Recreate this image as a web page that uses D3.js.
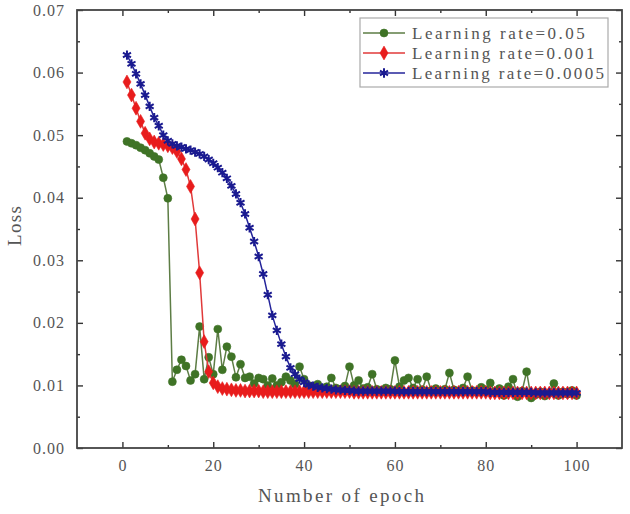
<!DOCTYPE html>
<html>
<head>
<meta charset="utf-8">
<script src="https://cdn.jsdelivr.net/npm/d3@7"></script>
<style>
  body { margin: 0; background: #fff; }
  svg { display: block; }
  text { font-family: "Liberation Serif", "DejaVu Serif", serif; fill: #555; }
</style>
</head>
<body>
<svg id="chart" width="630" height="514"></svg>
<script>
const epochs = d3.range(1, 101);
const seriesLabels = ["Learning rate=0.05", "Learning rate=0.001", "Learning rate=0.0005"];
const lossLr005 = [
  0.0490, 0.0487, 0.0484, 0.0480, 0.0476, 0.0471, 0.0466, 0.0461, 0.0432, 0.0399,
  0.0106, 0.0125, 0.0141, 0.0131, 0.0108, 0.0118, 0.0194, 0.0110, 0.0145, 0.0118,
  0.0190, 0.0125, 0.0162, 0.0146, 0.0113, 0.0134, 0.0112, 0.0114, 0.0103, 0.0112,
  0.0110, 0.0100, 0.0111, 0.0100, 0.0105, 0.0114, 0.0108, 0.0102, 0.0130, 0.0110,
  0.0100, 0.0096, 0.0102, 0.0095, 0.0098, 0.0112, 0.0096, 0.0094, 0.0099, 0.0130,
  0.0100, 0.0108, 0.0095, 0.0097, 0.0118, 0.0094, 0.0092, 0.0096, 0.0094, 0.0140,
  0.0098, 0.0108, 0.0112, 0.0096, 0.0110, 0.0093, 0.0114, 0.0092, 0.0095, 0.0090,
  0.0094, 0.0120, 0.0093, 0.0090, 0.0096, 0.0114, 0.0092, 0.0089, 0.0097, 0.0093,
  0.0104, 0.0090, 0.0095, 0.0084, 0.0098, 0.0110, 0.0082, 0.0091, 0.0122, 0.0080,
  0.0085, 0.0090, 0.0083, 0.0088, 0.0103, 0.0084, 0.0090, 0.0086, 0.0092, 0.0084
];
const lossLr0001 = [
  0.0585, 0.0564, 0.0543, 0.0522, 0.0503, 0.0494, 0.0489, 0.0487, 0.0485, 0.0483,
  0.0480, 0.0474, 0.0462, 0.0445, 0.0418, 0.0366, 0.0280, 0.0170, 0.0122, 0.0104,
  0.0098, 0.0095, 0.0094, 0.0093, 0.0092, 0.0092, 0.0091, 0.0091, 0.0091, 0.0091,
  0.0090, 0.0090, 0.0090, 0.0090, 0.0090, 0.0090, 0.0090, 0.0090, 0.0090, 0.0090,
  0.0090, 0.0090, 0.0090, 0.0090, 0.0090, 0.0090, 0.0090, 0.0090, 0.0090, 0.0090,
  0.0089, 0.0089, 0.0089, 0.0089, 0.0089, 0.0089, 0.0089, 0.0089, 0.0089, 0.0089,
  0.0089, 0.0089, 0.0089, 0.0089, 0.0089, 0.0089, 0.0089, 0.0089, 0.0089, 0.0089,
  0.0089, 0.0089, 0.0089, 0.0089, 0.0089, 0.0089, 0.0089, 0.0089, 0.0089, 0.0089,
  0.0088, 0.0088, 0.0088, 0.0088, 0.0088, 0.0088, 0.0088, 0.0088, 0.0088, 0.0088,
  0.0088, 0.0088, 0.0088, 0.0088, 0.0088, 0.0088, 0.0088, 0.0088, 0.0088, 0.0088
];
const lossLr00005 = [
  0.0628, 0.0614, 0.0598, 0.0582, 0.0564, 0.0546, 0.0528, 0.0515, 0.0500, 0.0491,
  0.0486, 0.0483, 0.0481, 0.0478, 0.0476, 0.0473, 0.0470, 0.0466, 0.0461, 0.0455,
  0.0448, 0.0440, 0.0431, 0.0419, 0.0406, 0.0392, 0.0374, 0.0352, 0.0330, 0.0306,
  0.0278, 0.0245, 0.0212, 0.0188, 0.0166, 0.0146, 0.0128, 0.0118, 0.0110, 0.0105,
  0.0101, 0.0099, 0.0097, 0.0096, 0.0095, 0.0094, 0.0093, 0.0093, 0.0092, 0.0092,
  0.0091, 0.0091, 0.0091, 0.0091, 0.0091, 0.0091, 0.0091, 0.0091, 0.0091, 0.0091,
  0.0090, 0.0090, 0.0090, 0.0090, 0.0090, 0.0090, 0.0090, 0.0090, 0.0090, 0.0090,
  0.0090, 0.0090, 0.0090, 0.0090, 0.0090, 0.0090, 0.0090, 0.0090, 0.0090, 0.0090,
  0.0089, 0.0089, 0.0089, 0.0089, 0.0089, 0.0089, 0.0089, 0.0089, 0.0089, 0.0089,
  0.0088, 0.0088, 0.0088, 0.0088, 0.0088, 0.0088, 0.0088, 0.0088, 0.0088, 0.0088
];
const xMajorTicks = [0, 20, 40, 60, 80, 100];
const xMinorTicks = [10, 30, 50, 70, 90];
const yMajorTicks = [0, 0.01, 0.02, 0.03, 0.04, 0.05, 0.06, 0.07];
const yMinorTicks = [0.005, 0.015, 0.025, 0.035, 0.045, 0.055, 0.065];
const xTitle = "Number of epoch";
const yTitle = "Loss";

const svg = d3.select("#chart");
const L = 77, R = 622, T = 10, B = 448;
const x = d3.scaleLinear().domain([-10, 110]).range([L, R]);
const y = d3.scaleLinear().domain([0, 0.07]).range([B, T]);

const styles = [
  { line: "#5d7d45", mark: "#3f7326", symbol: d3.symbolCircle, size: 50, fill: true },
  { line: "#e03a3a", mark: "#e81c1c", symbol: d3.symbolDiamond, size: 55, fill: true },
  { line: "#24249a", mark: "#1a1a90", symbol: d3.symbolAsterisk, size: 60, fill: false }
];
const series = [lossLr005, lossLr0001, lossLr00005];

function axisGroup(axisFn, scale, ticks, size, transform, labels, fmt, pad) {
  const a = axisFn(scale).tickValues(ticks).tickSizeInner(-size).tickSizeOuter(0).tickPadding(pad || 0);
  if (labels) a.tickFormat(fmt); else a.tickFormat("");
  const g = svg.append("g").attr("transform", transform).call(a);
  g.select(".domain").remove();
  g.selectAll("line").attr("stroke", "#333").attr("stroke-width", 1.4);
  g.selectAll("text").style("font-size", "16px").attr("fill", "#555").style("letter-spacing", "1px");
  return g;
}
axisGroup(d3.axisBottom, x, xMajorTicks, 6, `translate(0,${B})`, true, d3.format("d"), 12);
axisGroup(d3.axisBottom, x, xMinorTicks, 3, `translate(0,${B})`, false);
axisGroup(d3.axisTop, x, xMajorTicks, 6, `translate(0,${T})`, false);
axisGroup(d3.axisTop, x, xMinorTicks, 3, `translate(0,${T})`, false);
axisGroup(d3.axisLeft, y, yMajorTicks, 6, `translate(${L},0)`, true, d3.format(".2f"), 12);
axisGroup(d3.axisLeft, y, yMinorTicks, 3, `translate(${L},0)`, false);
axisGroup(d3.axisRight, y, yMajorTicks, 6, `translate(${R},0)`, false);
axisGroup(d3.axisRight, y, yMinorTicks, 3, `translate(${R},0)`, false);

const line = d3.line().x((d, i) => x(epochs[i])).y(d => y(d));
series.forEach((vals, k) => {
  const st = styles[k];
  const g = svg.append("g");
  g.append("path").datum(vals).attr("d", line).attr("fill", "none")
    .attr("stroke", st.line).attr("stroke-width", 1.5);
  const sym = d3.symbol().type(st.symbol).size(st.size);
  g.selectAll("path.m").data(vals).join("path").attr("class", "m")
    .attr("d", sym)
    .attr("transform", (d, i) => `translate(${x(epochs[i])},${y(d)})`)
    .attr("fill", st.fill ? st.mark : "none")
    .attr("stroke", st.mark).attr("stroke-width", st.fill ? 0.6 : 2);
});

svg.append("rect").attr("x", L).attr("y", T).attr("width", R - L).attr("height", B - T)
  .attr("fill", "none").attr("stroke", "#444").attr("stroke-width", 1.8);

const lg = svg.append("g");
lg.append("rect").attr("x", 360).attr("y", 18).attr("width", 248).attr("height", 69)
  .attr("fill", "#fff").attr("stroke", "#aaa").attr("stroke-width", 1.2);
seriesLabels.forEach((lab, k) => {
  const st = styles[k];
  const cy = 33 + k * 20;
  lg.append("line").attr("x1", 363).attr("x2", 405).attr("y1", cy).attr("y2", cy)
    .attr("stroke", st.line).attr("stroke-width", 1.5);
  lg.append("path").attr("d", d3.symbol().type(st.symbol).size(st.size)())
    .attr("transform", `translate(384,${cy})`)
    .attr("fill", st.fill ? st.mark : "none").attr("stroke", st.mark)
    .attr("stroke-width", st.fill ? 0.6 : 2);
  lg.append("text").attr("x", 412).attr("y", cy + 6).text(lab)
    .style("font-size", "17px")
    .attr("textLength", lab.length * 9.6).attr("lengthAdjust", "spacing");
});

svg.append("text").attr("x", 341).attr("y", 502).attr("text-anchor", "middle")
  .style("font-size", "19px").attr("textLength", 166).attr("lengthAdjust", "spacing").text(xTitle);
svg.append("text").attr("transform", "translate(21,226) rotate(-90)").attr("text-anchor", "middle")
  .style("font-size", "19px").attr("textLength", 40).attr("lengthAdjust", "spacing").text(yTitle);
</script>
</body>
</html>
